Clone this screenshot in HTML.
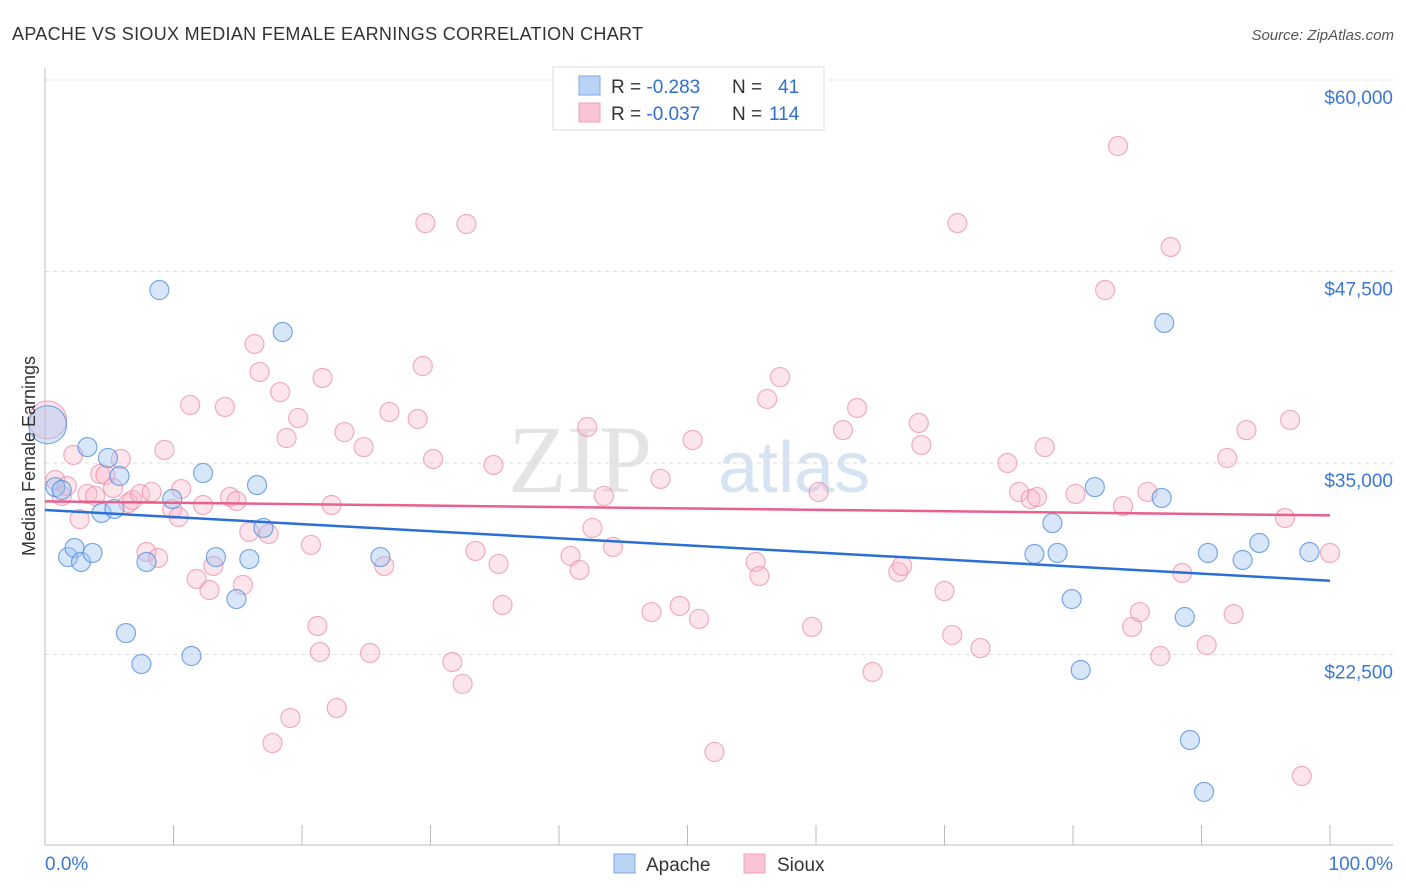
<!DOCTYPE html>
<html><head><meta charset="utf-8">
<style>
body{margin:0;background:#fff;font-family:"Liberation Sans",sans-serif;}
svg{display:block}
</style></head>
<body>
<svg id="chart" width="1406" height="892" viewBox="0 0 1406 892">
<text x="12" y="40" font-size="18" fill="#333" textLength="631" lengthAdjust="spacing">APACHE VS SIOUX MEDIAN FEMALE EARNINGS CORRELATION CHART</text>
<text x="1394" y="40" font-size="15" fill="#555" font-style="italic" text-anchor="end">Source: ZipAtlas.com</text>
<text x="652" y="492" font-size="96" fill="#e4e4e4" font-family="Liberation Serif,serif" text-anchor="end">ZIP</text>
<text x="718" y="492" font-size="72" fill="#d6e3f3">atlas</text>
<g id="grid"></g>
<g id="axes"></g>
<g id="pts"></g>
<g id="trends"></g>
<text transform="translate(35,456) rotate(-90)" font-size="18" fill="#333" text-anchor="middle">Median Female Earnings</text>
<g>
<rect x="553" y="67" width="271" height="63" fill="#fff" stroke="#ddd"/>
<rect x="579" y="76" width="21" height="19" fill="#b9d3f5" stroke="#7faae6"/>
<rect x="579" y="103" width="21" height="19" fill="#f9c5d4" stroke="#efa0b8"/>
<text x="611" y="93" font-size="19" fill="#333">R = <tspan fill="#2f6fcf">-0.283</tspan><tspan x="732">N = </tspan><tspan x="778" fill="#2f6fcf">41</tspan></text>
<text x="611" y="120" font-size="19" fill="#333">R = <tspan fill="#2f6fcf">-0.037</tspan><tspan x="732">N = </tspan><tspan x="769" fill="#2f6fcf">114</tspan></text>
</g>
<g>
<rect x="614" y="854" width="21" height="19" fill="#b9d3f5" stroke="#7faae6"/>
<text x="646" y="871" font-size="19" fill="#333">Apache</text>
<rect x="744" y="854" width="21" height="19" fill="#f9c5d4" stroke="#efa0b8"/>
<text x="777" y="871" font-size="19" fill="#333">Sioux</text>
</g>
</svg>
<script>
const yTicks=[60000,47500,35000,22500];
const yTickLabels=["$60,000","$47,500","$35,000","$22,500"];
const xTickLabels=["0.0%","100.0%"];
const apacheX=[0.2,0.8,1.3,1.8,2.3,2.8,3.7,3.3,4.4,4.9,5.4,5.8,6.3,7.5,7.9,8.9,9.9,11.4,12.3,13.3,14.9,15.9,16.5,17.0,18.5,26.1,77.0,78.4,78.8,79.9,80.6,81.7,86.9,87.1,88.7,89.1,90.5,90.2,93.2,94.5,98.4];
const apacheY=[37500,33430,33240,28860,29450,28540,29130,36040,31740,35330,32000,34150,23900,21880,28540,46290,32650,22400,34350,28860,26120,28730,33560,30760,43550,28860,29060,31080,29130,26120,21490,33430,32720,44140,24950,16920,29130,13530,28670,29780,29190];
const siouxX=[0.2,0.8,1.3,1.7,2.2,2.7,3.3,3.9,4.3,4.7,5.3,5.9,6.5,6.8,7.4,7.9,8.3,8.8,9.3,9.9,10.4,10.6,11.3,11.8,12.3,12.8,13.1,14.0,14.4,14.9,15.4,15.9,16.3,16.7,17.4,17.7,18.3,18.8,19.1,19.7,20.7,21.2,21.4,21.6,22.3,22.7,23.3,24.8,25.3,26.4,26.8,29.0,29.4,29.6,30.2,31.7,32.5,32.8,33.5,34.9,35.3,35.6,40.9,41.6,42.2,42.6,43.5,44.2,47.2,47.9,49.4,50.4,50.9,52.1,55.3,55.6,56.2,57.2,59.7,60.2,62.1,63.2,64.4,66.4,66.7,68.0,68.2,70.0,70.6,71.0,72.8,74.9,75.8,76.7,77.2,77.8,80.2,82.5,83.5,83.9,84.6,85.2,85.8,86.8,87.6,88.5,90.4,92.0,92.5,93.5,96.5,96.9,97.8,100.0];
const siouxY=[37810,33890,32850,33500,35520,31340,32980,32850,34280,34220,33370,35260,32390,32580,32980,29190,33110,28800,35850,32000,31480,33300,38790,27430,32260,26710,28280,38660,32780,32520,27040,30500,42770,40940,30370,16720,39630,36630,18360,37940,29650,24360,22660,40550,32260,19010,37020,36040,22600,28280,38330,37870,41330,50660,35260,22010,20580,50600,29260,34870,28410,25730,28930,28020,37350,30760,32850,29520,25270,33960,25670,36500,24820,16140,28540,27620,39180,40610,24300,33110,37150,38590,21360,27890,28280,37610,36170,26640,23770,50660,22920,35000,33110,32650,32780,36040,32980,46290,55690,32190,24300,25270,33110,22400,49100,27820,23120,35330,25140,37150,31410,37810,14570,29130];
const apacheBig=0, siouxBig=0;
const NS="http://www.w3.org/2000/svg";
const X0=45,X1=1330;
function xs(p){return X0+(X1-X0)*p/100;}
function ys(v){return 463-(v-35000)*191.5/12500;}
function mk(tag,attrs,parent){const e=document.createElementNS(NS,tag);for(const k in attrs)e.setAttribute(k,attrs[k]);parent.appendChild(e);return e;}
const grid=document.getElementById('grid'),axes=document.getElementById('axes'),pts=document.getElementById('pts'),tr=document.getElementById('trends');
yTicks.forEach((v,i)=>{
  const l=mk('line',{x1:45,x2:1393,y1:ys(v),y2:ys(v),stroke:'#ddd','stroke-dasharray':'4,4'},grid);
  
  
  const t=mk('text',{x:1393,y:ys(v)+24,'font-size':19,fill:'#3a78d4','text-anchor':'end'},axes);
  t.textContent=yTickLabels[i];
  
  
});
let a=mk('line',{x1:45,x2:45,y1:68,y2:845,stroke:'#bbb'},axes);


a=mk('line',{x1:45,x2:1393,y1:845,y2:845,stroke:'#bbb'},axes);


for(let i=0;i<=10;i++){
  const t=mk('line',{x1:xs(i*10),x2:xs(i*10),y1:825,y2:845,stroke:'#bbb'},axes);
  
  
}
[[0,'start',45],[100,'end',1393]].forEach((d,i)=>{
  const t=mk('text',{x:d[2],y:870,'font-size':19,fill:'#3a78d4','text-anchor':d[1]},axes);
  t.textContent=xTickLabels[i];
  
  
});
function drawSeries(X,Y,big,fill,stroke,name){
  X.forEach((x,i)=>{
    const c=mk('circle',{cx:xs(x),cy:ys(Y[i]),r:i===big?19:9.5,fill:fill,stroke:stroke,'stroke-width':1.2},pts);
    
    
  });
}
drawSeries(siouxX,siouxY,siouxBig,'rgba(248,180,200,0.35)','rgba(235,140,170,0.7)','sioux');
drawSeries(apacheX,apacheY,apacheBig,'rgba(160,195,240,0.42)','rgba(80,140,220,0.75)','apache');
function trend(X,Y,color,name){
  const n=X.length;let sx=0,sy=0,sxx=0,sxy=0;
  for(let i=0;i<n;i++){sx+=X[i];sy+=Y[i];sxx+=X[i]*X[i];sxy+=X[i]*Y[i];}
  const b=(n*sxy-sx*sy)/(n*sxx-sx*sx),a0=(sy-b*sx)/n;
  const l=mk('line',{x1:xs(0),y1:ys(a0),x2:xs(100),y2:ys(a0+b*100),stroke:color,'stroke-width':2.5},tr);
  
  
}
trend(apacheX,apacheY,'#2a6fd6','apache');
trend(siouxX,siouxY,'#e8608c','sioux');
</script>
</body></html>
